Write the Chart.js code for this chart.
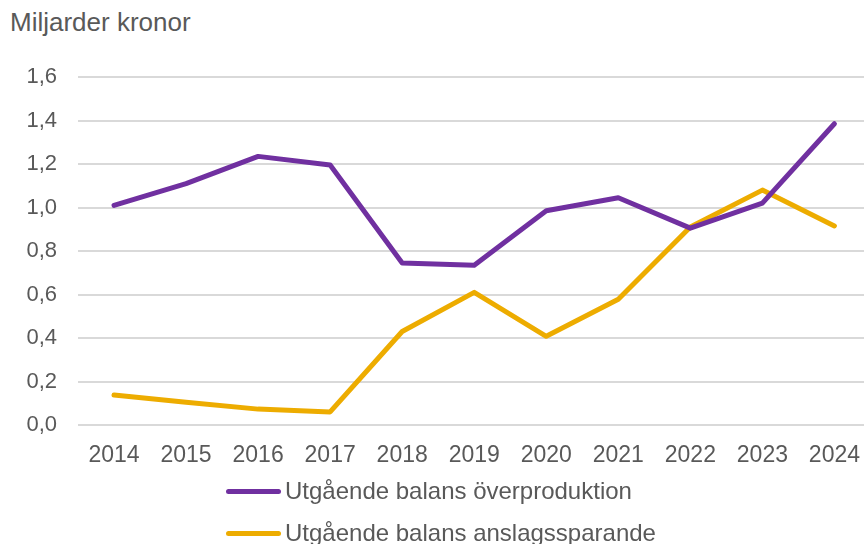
<!DOCTYPE html>
<html>
<head>
<meta charset="utf-8">
<script src="https://cdn.jsdelivr.net/npm/chart.js@4"></script>
<style>
  html, body { margin: 0; padding: 0; background: #fff; overflow: hidden; }
  body { width: 864px; height: 544px; position: relative; font-family: "Liberation Sans", Arial, sans-serif; }
  #unit { position: absolute; left: 10px; top: 7px; font-size: 26px; color: #595959; }
  #chart { position: absolute; left: 0; top: 0; }
  #legend { position: absolute; left: 226px; top: 470px; }
  .item { display: flex; align-items: center; height: 42px; font-size: 24px; color: #595959; }
  .swatch { width: 55px; height: 5px; border-radius: 3px; margin-right: 4px; }
</style>
</head>
<body>
<div id="unit">Miljarder kronor</div>
<canvas id="chart" width="877" height="475"></canvas>
<div id="legend"></div>
<script>
const years = ['2014', '2015', '2016', '2017', '2018', '2019', '2020', '2021', '2022', '2023', '2024'];
const overproduktion = [1.01, 1.11, 1.235, 1.195, 0.745, 0.735, 0.985, 1.045, 0.905, 1.02, 1.385];
const anslagssparande = [0.138, 0.105, 0.073, 0.06, 0.43, 0.61, 0.408, 0.578, 0.91, 1.08, 0.915];
const seriesNames = ['Utgående balans överproduktion', 'Utgående balans anslagssparande'];
const seriesColors = ['#7030A0', '#EDAC00'];

const ctx = document.getElementById('chart').getContext('2d');
const chart = new Chart(ctx, {
  type: 'line',
  data: {
    labels: years,
    datasets: [overproduktion, anslagssparande].map((d, i) => ({
      label: seriesNames[i],
      data: d,
      borderColor: seriesColors[i],
      backgroundColor: seriesColors[i],
      borderWidth: 5,
      pointRadius: 0,
      borderCapStyle: 'round',
      borderJoinStyle: 'round',
      tension: 0
    }))
  },
  options: {
    responsive: false,
    animation: false,
    layout: { padding: { top: 77, right: 0, bottom: 0, left: 0 } },
    plugins: { legend: { display: false }, tooltip: { enabled: false } },
    scales: {
      x: {
        offset: true,
        grid: { display: false, drawTicks: false },
        border: { display: false },
        ticks: { padding: 17, color: '#595959', font: { family: 'Liberation Sans', size: 23 }, maxRotation: 0 },
        afterFit(scale) { scale.height = 50; }
      },
      y: {
        min: 0,
        max: 1.6,
        grid: { color: '#D9D9D9', lineWidth: 2, drawTicks: false },
        border: { display: false },
        ticks: {
          stepSize: 0.2,
          padding: 21,
          color: '#595959',
          font: { family: 'Liberation Sans', size: 22 },
          callback: v => v.toFixed(1).replace('.', ',')
        },
        afterFit(scale) { scale.width = 78; }
      }
    }
  }
});

const legend = document.getElementById('legend');
chart.data.datasets.forEach(ds => {
  const row = document.createElement('div');
  row.className = 'item';
  const sw = document.createElement('span');
  sw.className = 'swatch';
  sw.style.background = ds.borderColor;
  row.appendChild(sw);
  row.appendChild(document.createTextNode(ds.label));
  legend.appendChild(row);
});
</script>
</body>
</html>
